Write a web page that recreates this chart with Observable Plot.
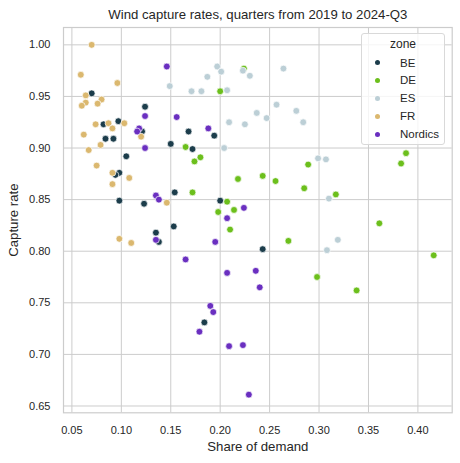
<!DOCTYPE html>
<html>
<head>
<meta charset="utf-8">
<script src="https://cdn.jsdelivr.net/npm/d3@7"></script>
<script src="https://cdn.jsdelivr.net/npm/@observablehq/plot@0.6"></script>
<style>
  html, body { margin: 0; padding: 0; background: #ffffff; }
  #wrap { position: relative; width: 460px; height: 463px; font-family: "Liberation Sans", Arial, sans-serif; color: #262626; }
  #legend { position: absolute; left: 361px; top: 33px; width: 84px; height: 112px; box-sizing: border-box;
            background: rgba(255,255,255,0.8); border: 1px solid #d9d9d9; border-radius: 3px; }
  #legend .ttl { position: absolute; left: 0; width: 100%; top: 3px; text-align: center; font-size: 12px; }
  #legend .row { position: absolute; left: 0; height: 14px; font-size: 11.5px; line-height: 14px; }
  #legend .sw { position: absolute; left: 13px; top: 4.5px; width: 5px; height: 5px; border-radius: 50%; }
  #legend .lb { position: absolute; left: 38px; top: 0; white-space: nowrap; }
</style>
</head>
<body>
<div id="wrap"><div id="legend"></div></div>
<script>
const zones = ["BE", "DE", "ES", "FR", "Nordics"];
const zoneColors = ["#1c3d4b", "#6cbf1c", "#bccfd6", "#dbb86f", "#6a2fc0"];

const beShare   = [0.070,0.124,0.097,0.082,0.121,0.168,0.084,0.092,0.150,0.172,0.105,0.098,0.094,0.098,0.123,0.154,0.153,0.135,0.138,0.194,0.200,0.243,0.184];
const beCapture = [0.953,0.940,0.926,0.923,0.916,0.916,0.909,0.909,0.904,0.899,0.892,0.876,0.874,0.849,0.846,0.857,0.824,0.818,0.809,0.912,0.849,0.802,0.731];

const deShare   = [0.224,0.200,0.165,0.180,0.174,0.289,0.218,0.243,0.256,0.285,0.172,0.207,0.214,0.198,0.210,0.388,0.383,0.317,0.361,0.269,0.416,0.298,0.338];
const deCapture = [0.977,0.955,0.901,0.891,0.887,0.884,0.870,0.873,0.868,0.861,0.857,0.848,0.840,0.838,0.821,0.895,0.885,0.855,0.827,0.810,0.796,0.775,0.762];

const esShare   = [0.149,0.171,0.197,0.201,0.223,0.230,0.264,0.187,0.181,0.207,0.257,0.277,0.237,0.247,0.284,0.209,0.225,0.204,0.299,0.307,0.310,0.319,0.308];
const esCapture = [0.960,0.955,0.979,0.974,0.975,0.970,0.977,0.969,0.955,0.956,0.942,0.936,0.934,0.929,0.925,0.925,0.923,0.900,0.890,0.889,0.851,0.811,0.801];

const frShare   = [0.070,0.059,0.096,0.064,0.064,0.060,0.080,0.076,0.103,0.087,0.074,0.091,0.120,0.062,0.079,0.067,0.075,0.091,0.108,0.091,0.146,0.098,0.110];
const frCapture = [1.000,0.971,0.963,0.951,0.944,0.941,0.947,0.943,0.924,0.924,0.923,0.919,0.911,0.913,0.903,0.898,0.883,0.876,0.871,0.865,0.847,0.812,0.808];

const noShare   = [0.146,0.124,0.156,0.118,0.116,0.124,0.135,0.138,0.188,0.224,0.207,0.135,0.195,0.165,0.207,0.236,0.240,0.190,0.193,0.179,0.209,0.223,0.229];
const noCapture = [0.979,0.931,0.930,0.919,0.916,0.900,0.854,0.850,0.919,0.842,0.832,0.811,0.809,0.792,0.779,0.781,0.765,0.747,0.741,0.722,0.708,0.709,0.661];

const xTicks = [0.05,0.10,0.15,0.20,0.25,0.30,0.35,0.40];
const yTicks = [0.65,0.70,0.75,0.80,0.85,0.90,0.95,1.00];

const titleText = "Wind capture rates, quarters from 2019 to 2024-Q3";
const xLabel = "Share of demand";
const yLabel = "Capture rate";
const legendTitle = "zone";

const series = [
  [beShare, beCapture], [deShare, deCapture], [esShare, esCapture], [frShare, frCapture], [noShare, noCapture]
];
const rows = [];
series.forEach(([xs, ys], k) => xs.forEach((x, i) => rows.push({zone: zones[k], share: x, capture: ys[i]})));

const txt = "#262626";
const grid = "#cccccc";

const chart = Plot.plot({
  width: 460,
  height: 463,
  marginLeft: 63,
  marginRight: 8.3,
  marginTop: 27,
  marginBottom: 50.7,
  style: {fontFamily: "'Liberation Sans', Arial, sans-serif", background: "#ffffff", color: txt},
  x: {domain: [0.0415, 0.4347]},
  y: {domain: [0.6434, 1.0168]},
  color: {domain: zones, range: zoneColors},
  marks: [
    Plot.gridX(xTicks, {stroke: grid, strokeOpacity: 1, strokeWidth: 1}),
    Plot.gridY(yTicks, {stroke: grid, strokeOpacity: 1, strokeWidth: 1}),
    Plot.frame({stroke: grid, strokeWidth: 1.2}),
    Plot.dot(rows, {x: "share", y: "capture", fill: "zone", r: 3.4, stroke: "#ffffff", strokeWidth: 0.7}),
    Plot.axisX(xTicks, {tickSize: 0, tickPadding: 13, tickFormat: d3.format(".2f"), fontSize: 11, fill: txt, label: null}),
    Plot.axisY(yTicks, {tickSize: 0, tickPadding: 13, tickFormat: d3.format(".2f"), fontSize: 11, fill: txt, label: null}),
    Plot.text([titleText], {frameAnchor: "top", lineAnchor: "middle", textAnchor: "middle", dy: -12.7, fontSize: 13.2, fill: txt}),
    Plot.text([xLabel], {frameAnchor: "bottom", lineAnchor: "middle", textAnchor: "middle", dy: 34.4, fontSize: 13.2, fill: txt}),
    Plot.text([yLabel], {frameAnchor: "left", lineAnchor: "middle", textAnchor: "middle", dx: -49.7, rotate: -90, fontSize: 13.2, fill: txt})
  ]
});
document.getElementById("wrap").prepend(chart);

const lg = document.getElementById("legend");
const t = document.createElement("div");
t.className = "ttl"; t.textContent = legendTitle; lg.appendChild(t);
zones.forEach((z, i) => {
  const r = document.createElement("div");
  r.className = "row";
  r.style.top = (21.5 + i * 17.9) + "px";
  const s = document.createElement("div"); s.className = "sw"; s.style.background = zoneColors[i];
  const l = document.createElement("div"); l.className = "lb"; l.textContent = z;
  r.appendChild(s); r.appendChild(l); lg.appendChild(r);
});
</script>
</body>
</html>
